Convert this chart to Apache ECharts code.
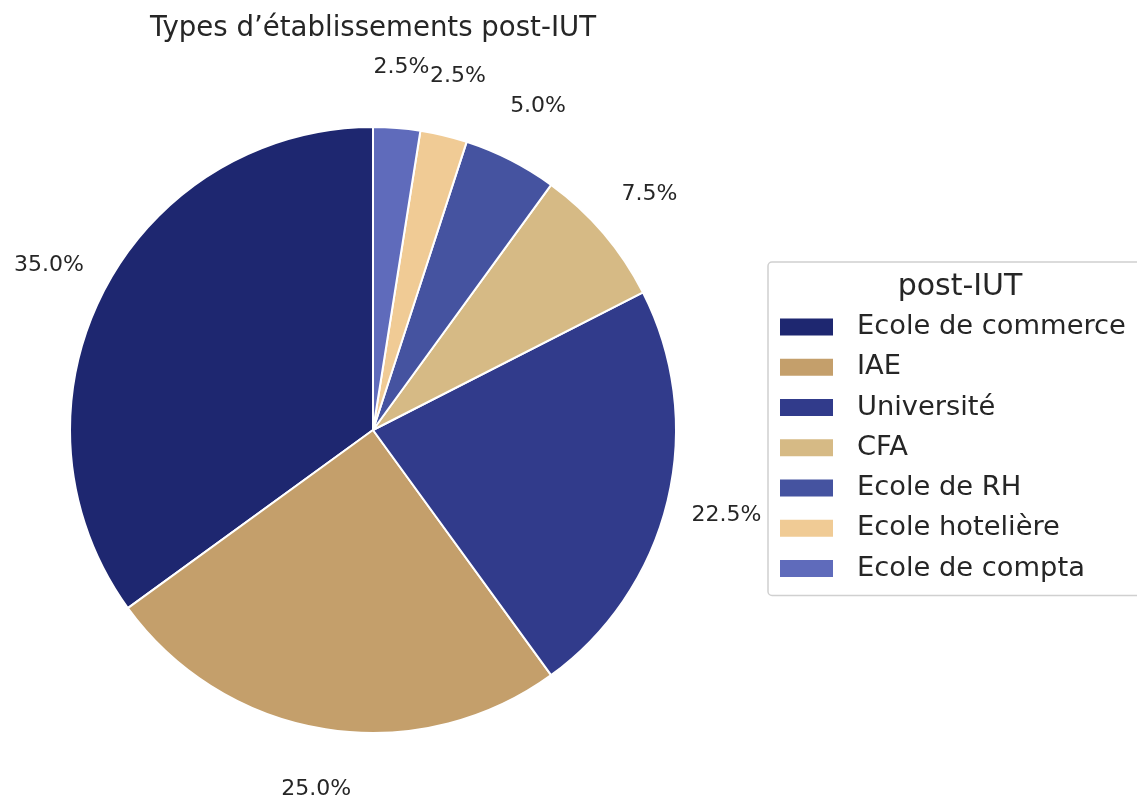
<!DOCTYPE html>
<html>
<head>
<meta charset="utf-8">
<script src="https://cdn.jsdelivr.net/npm/echarts@6/dist/echarts.min.js"></script>
<style>html,body{margin:0;padding:0;background:#fff;}#c{width:1137px;height:800px;}</style>
</head>
<body>
<div id="c"></div>
<script>
const categories = ['Ecole de commerce', 'IAE', 'Université', 'CFA', 'Ecole de RH', 'Ecole hotelière', 'Ecole de compta'];
const values = [35.0, 25.0, 22.5, 7.5, 5.0, 2.5, 2.5];
const colors = ['#1e2770', '#c49f6b', '#313b8b', '#d6ba85', '#4553a0', '#f0cb95', '#5f6bbb'];
const chartTitle = 'Types d\u2019établissements post-IUT';
const legendTitle = 'post-IUT';

const FONT = '"DejaVu Sans", sans-serif';
const CX = 373, CY = 430, R = 303, LABEL_R = 1.2 * R;
const total = values.reduce((a, b) => a + b, 0);

const chart = echarts.init(document.getElementById('c'), null, {renderer: 'canvas'});
chart.setOption({
  animation: false,
  backgroundColor: '#fff',
  title: [
    {text: chartTitle, left: CX - 5, top: 10, textAlign: 'center',
     textStyle: {fontFamily: FONT, fontSize: 27.6, fontWeight: 'normal', color: '#262626'}},
    {text: legendTitle, left: 955, top: 267, textAlign: 'center',
     textStyle: {fontFamily: FONT, fontSize: 30, fontWeight: 'normal', color: '#262626'}}
  ],
  legend: {
    orient: 'vertical',
    left: 768, top: 262,
    padding: [50, 30, 12, 12],
    itemWidth: 53, itemHeight: 17, itemGap: 10.25,
    icon: 'rect',
    borderColor: '#d0d0d0', borderWidth: 1.5, borderRadius: 4,
    itemStyle: {borderWidth: 0},
    textStyle: {fontFamily: FONT, fontSize: 27.3, color: '#262626', lineHeight: 30, padding: [0, 0, 0, 19]},
    data: categories
  },
  series: [{
    type: 'pie',
    center: [CX, CY],
    radius: R,
    startAngle: 90,
    clockwise: false,
    avoidLabelOverlap: false,
    itemStyle: {borderColor: '#fff', borderWidth: 2},
    emphasis: {disabled: true},
    label: {
      show: true, position: 'outside',
      formatter: p => p.value.toFixed(1) + '%',
      fontFamily: FONT, fontSize: 22, color: '#262626'
    },
    labelLine: {show: false, length: LABEL_R - R, length2: 0},
    labelLayout: function (params) {
      let cum = 0;
      for (let i = 0; i < params.dataIndex; i++) cum += values[i];
      const mid = (90 + (cum + values[params.dataIndex] / 2) / total * 360) * Math.PI / 180;
      return {x: CX + LABEL_R * Math.cos(mid), y: CY - LABEL_R * Math.sin(mid), align: 'center', verticalAlign: 'middle'};
    },
    data: categories.map((n, i) => ({name: n, value: values[i], itemStyle: {color: colors[i]}}))
  }]
});
</script>
</body>
</html>
